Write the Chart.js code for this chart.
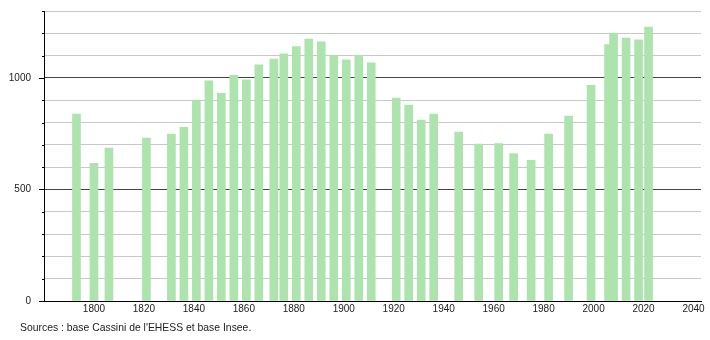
<!DOCTYPE html>
<html>
<head>
<meta charset="utf-8">
<script src="https://cdn.jsdelivr.net/npm/chart.js@4/dist/chart.umd.min.js"></script>
<style>
  html, body { margin: 0; padding: 0; background: #fff; }
  #wrap { position: relative; width: 710px; height: 340px; }
  #source {
    position: absolute; left: 20px; top: 322px;
    font-family: "Liberation Sans", Arial, sans-serif; font-size: 10.4px; color: #222;
  }
</style>
</head>
<body>
<div id="wrap">
  <canvas id="graphPopulation" width="710" height="340"></canvas>
  <div id="source">Sources : base Cassini de l'EHESS et base Insee.</div>
</div>
<script>
// Recensements
const years = [1793, 1800, 1806, 1821, 1831, 1836, 1841, 1846, 1851, 1856,
    1861, 1866, 1872, 1876, 1881, 1886, 1891, 1896, 1901, 1906, 1911,
    1921, 1926, 1931, 1936, 1946, 1954, 1962, 1968, 1975, 1982, 1990, 1999,
    2006, 2008, 2013, 2018, 2022];
const population = [838, 617, 685, 730, 748, 778, 901, 987, 931, 1012,
    991, 1059, 1084, 1108, 1141, 1174, 1162, 1099, 1081, 1101, 1068,
    910, 878, 811, 838, 757, 703, 706, 661, 631, 748, 829, 967,
    1149, 1201, 1179, 1171, 1228];
const xTickLabels = [1800, 1820, 1840, 1860, 1880, 1900, 1920, 1940, 1960, 1980, 2000, 2020, 2040];
const yTickLabels = [0, 500, 1000];

const fontFamily = '"Liberation Sans", Arial, sans-serif';

// petites graduations sur l'axe vertical
const tickMarks = {
    id: 'tickMarks',
    afterDraw(chart) {
        const y = chart.scales.y;
        const ctx = chart.ctx;
        ctx.save();
        ctx.strokeStyle = '#000';
        ctx.lineWidth = 1;
        y.ticks.forEach(t => {
            const py = Math.round(y.getPixelForValue(t.value)) + 0.5;
            const len = yTickLabels.includes(t.value) ? 5 : 2;
            ctx.beginPath();
            ctx.moveTo(y.right - len, py);
            ctx.lineTo(y.right, py);
            ctx.stroke();
        });
        ctx.restore();
    }
};

const ctxPop = document.getElementById('graphPopulation').getContext('2d');

new Chart(ctxPop, {
    type: 'bar',
    data: {
        datasets: [{
            label: 'Population',
            data: years.map((a, i) => ({ x: a, y: population[i] })),
            backgroundColor: '#ade3ad',
            borderWidth: 0,
            barThickness: 8
        }]
    },
    options: {
        responsive: false,
        animation: false,
        layout: { padding: { left: 0, right: 9, top: 11, bottom: 0 } },
        plugins: {
            legend: { display: false },
            tooltip: { enabled: false }
        },
        scales: {
            x: {
                type: 'linear',
                offset: false,
                min: 1780,
                max: 2043,
                afterBuildTicks: scale => {
                    scale.ticks = xTickLabels.map(v => ({ value: v }));
                },
                afterFit: scale => {
                    scale.height = 39;
                    scale.paddingLeft = 0;
                    scale.paddingRight = 0;
                },
                grid: { display: false, drawTicks: false },
                border: { display: true, color: '#000', width: 1 },
                ticks: {
                    padding: 2,
                    maxRotation: 0,
                    autoSkip: false,
                    color: '#222',
                    font: { family: fontFamily, size: 10 },
                    callback: v => String(v)
                }
            },
            y: {
                min: 0,
                max: 1300,
                afterFit: scale => {
                    scale.width = 44;
                    scale.paddingTop = 0;
                    scale.paddingBottom = 0;
                },
                grid: {
                    drawTicks: false,
                    color: c => (c.tick && yTickLabels.includes(c.tick.value)) ? '#444' : '#c8c8c8',
                    lineWidth: 1
                },
                border: { display: true, color: '#000', width: 1 },
                ticks: {
                    stepSize: 100,
                    padding: 13,
                    autoSkip: false,
                    color: '#222',
                    font: { family: fontFamily, size: 10 },
                    callback: v => yTickLabels.includes(v) ? String(v) : ''
                }
            }
        }
    },
    plugins: [tickMarks]
});
</script>
</body>
</html>
